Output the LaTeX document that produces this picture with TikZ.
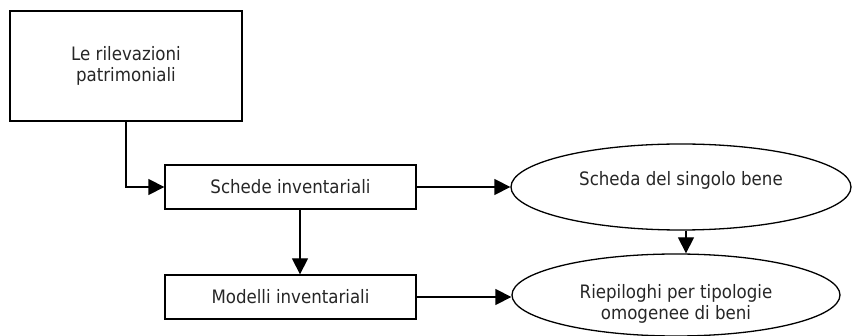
\documentclass[tikz,border=0pt]{standalone}
\usepackage{fontspec}
\setmainfont{DejaVu Sans Condensed}
\usetikzlibrary{arrows.meta,shapes.geometric}
\begin{document}
\begin{tikzpicture}[x=1pt,y=-1pt,
  every node/.style={font=\fontsize{18.5}{21}\selectfont, text=black!85, align=center, inner sep=0pt},
  box/.style={draw=black, line width=1.3pt, rectangle},
  oval/.style={draw=black, line width=1.3pt, ellipse},
  flow/.style={line width=1.3pt, -{Triangle[length=16pt,width=16pt]}}]
  \useasboundingbox (0,0) rectangle (852,336);
  % boxes
  \node[box, minimum width=232pt, minimum height=110pt] (lr) at (126,66) {Le rilevazioni\\patrimoniali};
  \node[box, minimum width=251pt, minimum height=44pt] (si) at (290.5,187) {Schede inventariali};
  \node[box, minimum width=251pt, minimum height=44pt] (mi) at (290.5,297) {Modelli inventariali};
  % ovals (labels sit a little off centre)
  \node[oval, minimum width=340pt, minimum height=86pt] (sb) at (681,187)
    {\raisebox{18pt}{Scheda del singolo bene}};
  \node[oval, minimum width=328pt, minimum height=82pt] (rp) at (676,295)
    {\rule{0pt}{31pt}Riepiloghi per tipologie\\omogenee di beni};
  % connectors
  \draw[flow] (lr.south) |- (si.west);
  \draw[flow] ([xshift=9.5pt]si.south) -- ([xshift=9.5pt]mi.north);
  \draw[flow] (si.east) -- (sb.west);
  \draw[flow] (mi.east) -- (mi.east -| rp.west);
  \draw[flow] ([xshift=5pt]sb.south) -- ([xshift=10pt]rp.north);
\end{tikzpicture}
\end{document}
